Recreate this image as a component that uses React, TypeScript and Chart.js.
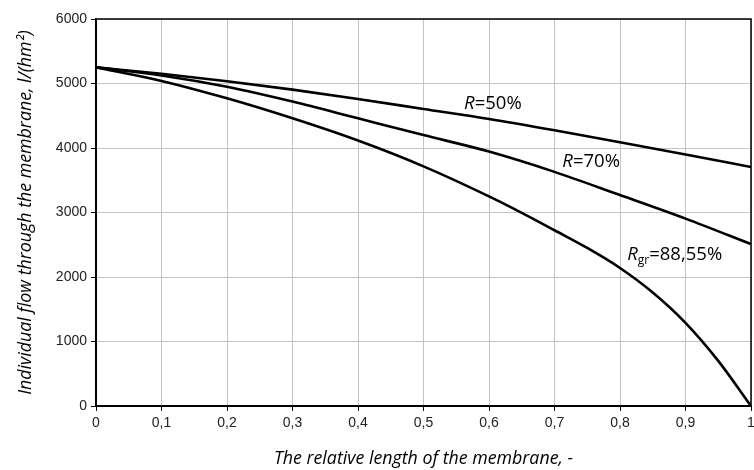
import React, { useEffect, useRef } from "react";
import { Chart, registerables } from "chart.js";

Chart.register(...registerables);

const xValues = [0, 0.1, 0.2, 0.3, 0.4, 0.5, 0.6, 0.7, 0.8, 0.9, 1.0];
const r50Values = [5250, 5150, 5035, 4905, 4760, 4605, 4450, 4275, 4090, 3900, 3705];
const r70Values = [5250, 5125, 4950, 4720, 4460, 4200, 3945, 3630, 3270, 2905, 2510];
const rgrX = [0, 0.1, 0.2, 0.3, 0.4, 0.5, 0.6, 0.65, 0.7, 0.75, 0.8, 0.85, 0.9, 0.95, 1.0];
const rgrValues = [5250, 5040, 4770, 4460, 4115, 3715, 3250, 2995, 2725, 2450, 2140, 1760, 1290, 700, 0];

const xTickValues = [0, 0.1, 0.2, 0.3, 0.4, 0.5, 0.6, 0.7, 0.8, 0.9, 1];
const yTickValues = [0, 1000, 2000, 3000, 4000, 5000, 6000];

const labels = [
  { parts: [{ t: "R", italic: true }, { t: "=50%" }], x: 0.562, y: 4680 },
  { parts: [{ t: "R", italic: true }, { t: "=70%" }], x: 0.712, y: 3780 },
  { parts: [{ t: "R", italic: true }, { t: "gr", sub: true }, { t: "=88,55%" }], x: 0.811, y: 2350 },
];

const fmtX = (v: number) => (v === 0 ? "0" : v === 1 ? "1" : v.toFixed(1).replace(".", ","));

const labelPlugin = {
  id: "curveLabels",
  beforeDatasetsDraw(chart: any) {
    const { ctx, chartArea } = chart;
    ctx.save();
    ctx.strokeStyle = "#000";
    ctx.lineWidth = 1.5;
    ctx.beginPath();
    ctx.moveTo(chartArea.left, chartArea.top);
    ctx.lineTo(chartArea.right, chartArea.top);
    ctx.lineTo(chartArea.right, chartArea.bottom);
    ctx.stroke();
    ctx.restore();
  },
  afterDatasetsDraw(chart: any) {
    const { ctx } = chart;
    const xs = chart.scales.x;
    const ys = chart.scales.y;
    ctx.save();
    ctx.fillStyle = "#000";
    ctx.textBaseline = "middle";
    ctx.textAlign = "left";
    for (const lab of labels) {
      let px = xs.getPixelForValue(lab.x);
      const py = ys.getPixelForValue(lab.y);
      for (const p of lab.parts as any[]) {
        const size = p.sub ? 12 : 18.5;
        ctx.font = `${p.italic ? "italic " : ""}${size}px "Open Sans", sans-serif`;
        ctx.fillText(p.t, px, p.sub ? py + 6 : py);
        px += ctx.measureText(p.t).width;
      }
    }
    ctx.restore();
  },
};

export default function App() {
  const ref = useRef<HTMLCanvasElement | null>(null);
  useEffect(() => {
    if (!ref.current) return;
    const lineDs = (label: string, xs: number[], ys: number[]) => ({
      label,
      data: xs.map((x, i) => ({ x, y: ys[i] })),
      borderColor: "#000",
      borderWidth: 2.6,
      pointRadius: 0,
      fill: false,
      cubicInterpolationMode: "monotone" as const,
    });
    const chart = new Chart(ref.current, {
      type: "line",
      data: {
        datasets: [
          lineDs("R=50%", xValues, r50Values),
          lineDs("R=70%", xValues, r70Values),
          lineDs("Rgr=88,55%", rgrX, rgrValues),
        ],
      },
      options: {
        responsive: false,
        animation: false,
        layout: { padding: { left: 0, right: 3, top: 19, bottom: 0 } },
        plugins: { legend: { display: false }, tooltip: { enabled: false } },
        scales: {
          x: {
            type: "linear",
            min: 0,
            max: 1,
            afterBuildTicks: (s: any) => {
              s.ticks = xTickValues.map((v) => ({ value: v }));
            },
            afterFit: (s: any) => {
              s.height = 64;
              s.paddingLeft = 0;
              s.paddingRight = 0;
            },
            ticks: {
              autoSkip: false,
              maxRotation: 0,
              color: "#222",
              font: { family: "'Liberation Sans', Arial, sans-serif", size: 14 },
              padding: 4,
              callback: (v: any) => fmtX(Number(v)),
            },
            grid: { color: "#c4c4c4", lineWidth: 1, tickColor: "#000", tickLength: 5 },
            border: { color: "#000", width: 2 },
            title: {
              display: true,
              text: "The relative length of the membrane, -",
              color: "#000",
              font: { family: "'Open Sans', sans-serif", size: 17.8, style: "italic" },
              padding: { top: 0, bottom: 0 },
            },
          },
          y: {
            type: "linear",
            min: 0,
            max: 6000,
            afterBuildTicks: (s: any) => {
              s.ticks = yTickValues.map((v) => ({ value: v }));
            },
            afterFit: (s: any) => {
              s.width = 96;
              s.paddingTop = 0;
              s.paddingBottom = 0;
            },
            ticks: {
              color: "#222",
              font: { family: "'Liberation Sans', Arial, sans-serif", size: 14 },
              padding: 4,
              callback: (v: any) => String(v),
            },
            grid: { color: "#c4c4c4", lineWidth: 1, tickColor: "#000", tickLength: 5 },
            border: { color: "#000", width: 2 },
            title: {
              display: true,
              text: "Individual flow through the membrane, l/(hm²)",
              color: "#000",
              font: { family: "'Open Sans', sans-serif", size: 17.8, style: "italic" },
              padding: { top: 15, bottom: 0 },
            },
          },
        },
      },
      plugins: [labelPlugin],
    } as any);
    return () => chart.destroy();
  }, []);
  return (
    <div style={{ position: "fixed", left: 0, top: 0, width: 754, height: 470, background: "#fff" }}>
      <canvas ref={ref} width={754} height={470} style={{ display: "block" }} />
    </div>
  );
}
